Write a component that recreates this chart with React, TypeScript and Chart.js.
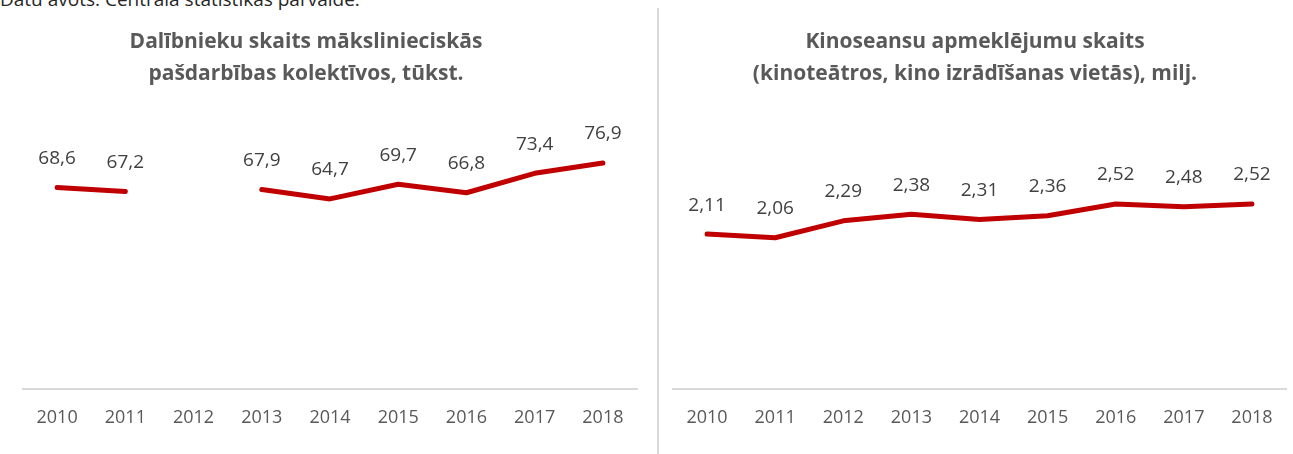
import React, { useEffect, useRef } from "react";
import { Chart, registerables } from "chart.js";

Chart.register(...registerables);

const years = ["2010", "2011", "2012", "2013", "2014", "2015", "2016", "2017", "2018"];
const participants: (number | null)[] = [68.6, 67.2, null, 67.9, 64.7, 69.7, 66.8, 73.4, 76.9];
const cinemaVisits: number[] = [2.11, 2.06, 2.29, 2.38, 2.31, 2.36, 2.52, 2.48, 2.52];

const leftTitle = ["Dalībnieku skaits mākslinieciskās", "pašdarbības kolektīvos, tūkst."];
const rightTitle = ["Kinoseansu apmeklējumu skaits", "(kinoteātros, kino izrādīšanas vietās), milj."];
const sourceText = "Datu avots: Centrālā statistikas pārvalde.";

const FONT = "'Open Sans', 'Noto Sans', sans-serif";

const labelPlugin = {
  id: "valueLabels",
  afterDatasetsDraw(chart: any) {
    const ctx = chart.ctx;
    const decimals = chart.options.plugins.valueLabels?.decimals ?? 1;
    chart.data.datasets.forEach((ds: any, di: number) => {
      const meta = chart.getDatasetMeta(di);
      meta.data.forEach((pt: any, i: number) => {
        const v = ds.data[i];
        if (v === null || v === undefined) return;
        ctx.save();
        ctx.font = `19px ${FONT}`;
        ctx.fillStyle = "#404040";
        ctx.textAlign = "center";
        ctx.textBaseline = "middle";
        ctx.fillText(Number(v).toFixed(decimals).replace(".", ","), pt.x, pt.y - 29);
        ctx.restore();
      });
    });
  },
};

function LineChart(props: { data: (number | null)[]; max: number; decimals: number; padL: number; padR: number; width: number }) {
  const ref = useRef<HTMLCanvasElement>(null);
  useEffect(() => {
    if (!ref.current) return;
    const chart = new Chart(ref.current, {
      type: "line",
      data: {
        labels: years,
        datasets: [
          {
            data: props.data,
            borderColor: "#C00000",
            borderWidth: 5,
            pointRadius: 0,
            tension: 0,
            spanGaps: false,
            borderCapStyle: "round",
            borderJoinStyle: "round",
          },
        ],
      },
      options: {
        responsive: false,
        animation: false,
        layout: { padding: { left: props.padL, right: props.padR, top: 95, bottom: 7 } },
        plugins: {
          legend: { display: false },
          tooltip: { enabled: false },
          valueLabels: { decimals: props.decimals },
        } as any,
        scales: {
          x: {
            offset: true,
            grid: { display: false, drawTicks: false },
            border: { display: true, color: "#d9d9d9", width: 2 },
            ticks: { color: "#595959", font: { family: FONT, size: 18 }, padding: 18, maxRotation: 0 },
          },
          y: {
            display: false,
            min: 0,
            max: props.max,
          },
        },
      },
      plugins: [labelPlugin],
    });
    return () => chart.destroy();
  }, []);
  return <canvas ref={ref} width={props.width} height={454} style={{ width: props.width, height: 454, display: "block" }} />;
}

const titleStyle: React.CSSProperties = {
  position: "absolute",
  top: 24,
  fontFamily: FONT,
  fontWeight: "bold",
  fontSize: 21,
  lineHeight: "32px",
  color: "#595959",
  textAlign: "center",
  whiteSpace: "nowrap",
};

export default function App() {
  return (
    <div style={{ position: "fixed", left: 0, top: 0, width: 1293, height: 454, background: "#fff", overflow: "hidden" }}>
      <div style={{ position: "absolute", left: 0, top: -14, fontFamily: FONT, fontSize: 19, color: "#262626", whiteSpace: "nowrap" }}>
        {sourceText}
      </div>
      <div style={{ position: "absolute", left: 0, top: 0 }}>
        <LineChart data={participants} max={100} decimals={1} padL={23} padR={13} width={650} />
      </div>
      <div style={{ position: "absolute", left: 660, top: 0 }}>
        <LineChart data={cinemaVisits} max={4} decimals={2} padL={13} padR={7} width={633} />
      </div>
      <div style={{ position: "absolute", left: 657, top: 8, width: 2, height: 446, background: "#d9d9d9" }} />
      <div style={{ ...titleStyle, left: 56, width: 500 }}>
        {leftTitle.map((t) => (
          <div key={t}>{t}</div>
        ))}
      </div>
      <div style={{ ...titleStyle, left: 725, width: 500 }}>
        {rightTitle.map((t) => (
          <div key={t}>{t}</div>
        ))}
      </div>
    </div>
  );
}
